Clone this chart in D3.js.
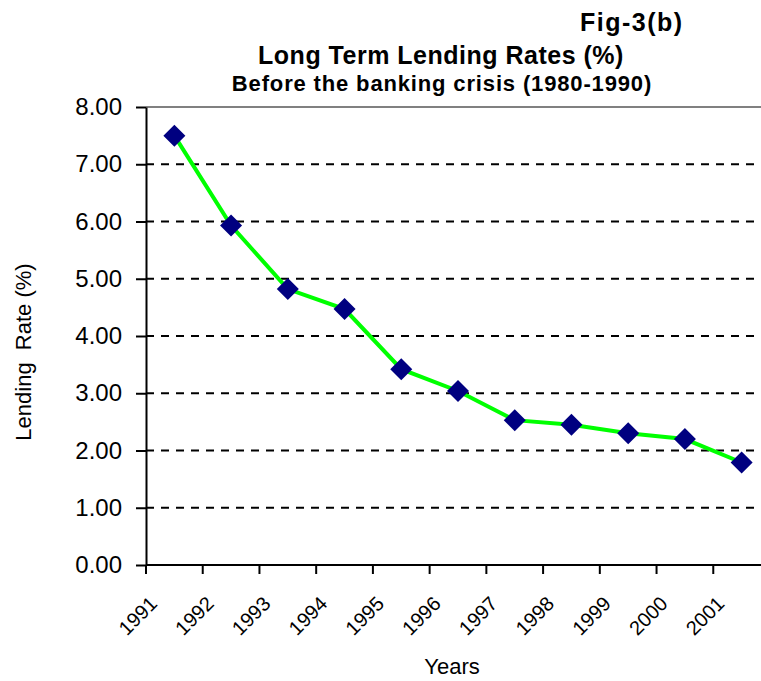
<!DOCTYPE html>
<html>
<head>
<meta charset="utf-8">
<script src="https://cdnjs.cloudflare.com/ajax/libs/d3/7.8.5/d3.min.js"></script>
<style>
  body { margin: 0; background: #fff; }
  text { font-family: Arial, "Liberation Sans", sans-serif; fill: #000; }
  .title { font-weight: bold; }
</style>
</head>
<body>
<div id="line_chart"></div>
<script>

var years = ["1991", "1992", "1993", "1994", "1995", "1996", "1997", "1998", "1999", "2000", "2001"];
var rates = [7.50, 5.93, 4.82, 4.47, 3.42, 3.04, 2.53, 2.45, 2.30, 2.20, 1.79];
var yTicks = [0, 1, 2, 3, 4, 5, 6, 7, 8];

var margin = { top: 107, left: 146 };
var width = 624;   // plot runs past the right edge of the picture
var height = 458;

var svg = d3.select('#line_chart')
  .append('svg')
    .attr('width', 761)
    .attr('height', 681);

var chart = svg.append('g')
    .attr('transform', 'translate(' + margin.left + ',' + margin.top + ')');

//scales
var x = d3.scaleBand()
  .range([0, width])
  .domain(years);

var y = d3.scaleLinear()
  .range([height, 0])
  .domain([0, 8]);

// dashed grid lines
chart.selectAll('.grid')
  .data(yTicks.filter(function(d) { return d > 0 && d < 8; }))
  .enter().append('line')
    .attr('class', 'grid')
    .attr('x1', 0)
    .attr('x2', width)
    .attr('y1', function(d) { return y(d); })
    .attr('y2', function(d) { return y(d); })
    .attr('stroke', '#000')
    .attr('stroke-width', 2)
    .attr('stroke-dasharray', '8,7');

// top border
chart.append('line')
  .attr('x1', 0)
  .attr('x2', width)
  .attr('y1', 0)
  .attr('y2', 0)
  .attr('stroke', '#808080')
  .attr('stroke-width', 2);

// draw y axis
var yAxis = d3.axisLeft(y)
  .tickValues(yTicks)
  .tickFormat(d3.format('.2f'))
  .tickSizeInner(10)
  .tickSizeOuter(0)
  .tickPadding(14);

var gy = chart.append('g')
  .attr('class', 'yaxis')
  .call(yAxis);
gy.select('.domain').attr('stroke', '#000').attr('stroke-width', 2);
gy.selectAll('.tick line').attr('stroke', '#000').attr('stroke-width', 2);
gy.selectAll('.tick text')
  .style('font-size', '24px')
  .attr('fill', '#000');

// draw x axis (ticks between the categories)
var xTickPos = years.map(function(d) { return x(d); }).concat([x.range()[1]]);

chart.append('line')
  .attr('x1', 0)
  .attr('x2', width)
  .attr('y1', height)
  .attr('y2', height)
  .attr('stroke', '#000')
  .attr('stroke-width', 2);

chart.selectAll('.xtick')
  .data(xTickPos)
  .enter().append('line')
    .attr('class', 'xtick')
    .attr('x1', function(d) { return d; })
    .attr('x2', function(d) { return d; })
    .attr('y1', height)
    .attr('y2', height + 9)
    .attr('stroke', '#000')
    .attr('stroke-width', 2);

chart.selectAll('.xlabel')
  .data(years)
  .enter().append('text')
    .attr('class', 'xlabel')
    .attr('transform', function(d) {
      return 'translate(' + (x(d) + x.bandwidth() / 2 - 16) + ',' + (height + 40) + ')rotate(-45)';
    })
    .style('text-anchor', 'end')
    .style('font-size', '20px')
    .text(function(d) { return d; });

// line
var line = d3.line()
  .x(function(d, i) { return x(years[i]) + x.bandwidth() / 2; })
  .y(function(d) { return y(d); });

chart.append('path')
  .datum(rates)
  .attr('d', line)
  .attr('fill', 'none')
  .attr('stroke', '#00ff00')
  .attr('stroke-width', 4);

// diamond markers
chart.selectAll('.marker')
  .data(rates)
  .enter().append('path')
    .attr('class', 'marker')
    .attr('transform', function(d, i) {
      return 'translate(' + (x(years[i]) + x.bandwidth() / 2) + ',' + y(d) + ')';
    })
    .attr('d', 'M0,-11L11,0L0,11L-11,0Z')
    .attr('fill', '#000080');

// titles
svg.append('text')
  .attr('class', 'title')
  .attr('x', 580)
  .attr('y', 31)
  .style('font-size', '25px')
  .style('letter-spacing', '1.5px')
  .text('Fig-3(b)');

svg.append('text')
  .attr('class', 'title')
  .attr('x', 441)
  .attr('y', 64)
  .style('text-anchor', 'middle')
  .style('font-size', '25px')
  .style('letter-spacing', '0.5px')
  .text('Long Term Lending Rates (%)');

svg.append('text')
  .attr('class', 'title')
  .attr('x', 442)
  .attr('y', 91)
  .style('text-anchor', 'middle')
  .style('font-size', '22px')
  .style('letter-spacing', '0.85px')
  .text('Before the banking crisis (1980-1990)');

// add y axis text
svg.append('text')
  .attr('transform', 'translate(31,352)rotate(-90)')
  .style('text-anchor', 'middle')
  .style('font-size', '22px')
  .style('white-space', 'pre')
  .text('Lending  Rate (%)');

// add x axis text
svg.append('text')
  .attr('x', 452)
  .attr('y', 674)
  .style('text-anchor', 'middle')
  .style('font-size', '22px')
  .text('Years');

</script>
</body>
</html>
